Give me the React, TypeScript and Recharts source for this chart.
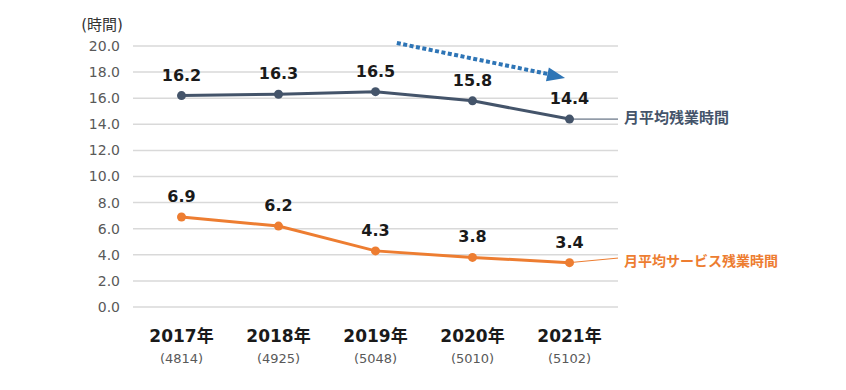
import React from "react";
import {
  LineChart,
  Line,
  XAxis,
  YAxis,
  CartesianGrid,
  LabelList,
  ReferenceLine,
  ReferenceDot,
} from "recharts";

// 年ごとの月平均残業時間（回答者数つき）
const years = ["2017年", "2018年", "2019年", "2020年", "2021年"];
const respondents = [4814, 4925, 5048, 5010, 5102];
const overtime = [16.2, 16.3, 16.5, 15.8, 14.4];
const serviceOvertime = [6.9, 6.2, 4.3, 3.8, 3.4];
const yTicks = [0, 2, 4, 6, 8, 10, 12, 14, 16, 18, 20];

const NAVY = "#44546A";
const ORANGE = "#ED7D31";
const ARROW = "#2E75B6";
const FONT = "'DejaVu Sans', 'Noto Sans CJK JP', sans-serif";

const data = years.map((y, i) => ({
  idx: i,
  year: y,
  n: respondents[i],
  overtime: overtime[i],
  service: serviceOvertime[i],
}));

function YearTick(props: any) {
  const { x, y, payload } = props;
  const i = payload.value as number;
  return (
    <g>
      <text x={x} y={y + 21} textAnchor="middle" dominantBaseline="central"
        fontFamily={FONT} fontSize={17} fontWeight="bold" fill="#1a1a1a">
        {years[i]}
      </text>
      <text x={x} y={y + 43} textAnchor="middle" dominantBaseline="central"
        fontFamily={FONT} fontSize={13} fill="#595959">
        ({respondents[i]})
      </text>
    </g>
  );
}

const seriesLabel = (text: string, color: string, size: number) => (p: any) => (
  <text x={p.cx + 6} y={p.cy} dominantBaseline="central" fontFamily={FONT}
    fontSize={size} fontWeight="bold" fill={color}>
    {text}
  </text>
);

const arrowHead = (p: any) => (
  <polygon points="0,0 -18,-7 -18,7" fill={ARROW}
    transform={`translate(${p.cx},${p.cy}) rotate(11.8)`} />
);

export default function App() {
  return (
    <div style={{ position: "absolute", left: 0, top: 0, background: "#fff" }}>
      <LineChart width={846} height={390} data={data}
        margin={{ top: 46, right: 228, bottom: 0, left: 0 }}>
        <CartesianGrid vertical={false} stroke="#D9D9D9" strokeWidth={1.5} />
        <XAxis type="number" dataKey="idx" domain={[-0.5, 4.5]} ticks={[0, 1, 2, 3, 4]}
          axisLine={false} tickLine={false} height={83} tick={<YearTick />} />
        <YAxis domain={[0, 20]} ticks={yTicks} width={133} axisLine={false} tickLine={false}
          tickSize={0} tickMargin={13} tickFormatter={(v: number) => v.toFixed(1)}
          tick={{ fontFamily: FONT, fontSize: 14, fill: "#595959" }} />
        <text x={102} y={25} textAnchor="middle" dominantBaseline="central"
          fontFamily={FONT} fontSize={15} fill="#333">(時間)</text>

        <ReferenceLine segment={[{ x: 4, y: overtime[4] }, { x: 4.5, y: overtime[4] }]}
          stroke={NAVY} strokeWidth={1} ifOverflow="visible" />
        <ReferenceLine segment={[{ x: 4, y: serviceOvertime[4] }, { x: 4.5, y: 3.75 }]}
          stroke={ORANGE} strokeWidth={1} ifOverflow="visible" />
        <ReferenceDot x={4.5} y={14.46} r={0} ifOverflow="visible"
          shape={seriesLabel("月平均残業時間", NAVY, 15)} />
        <ReferenceDot x={4.5} y={3.54} r={0} ifOverflow="visible"
          shape={seriesLabel("月平均サービス残業時間", ORANGE, 14)} />

        <ReferenceLine segment={[{ x: 2.22, y: 20.23 }, { x: 3.8, y: 17.82 }]}
          stroke={ARROW} strokeWidth={4} strokeDasharray="4 2.5" ifOverflow="visible" />
        <ReferenceDot x={3.954} y={17.54} r={0} ifOverflow="visible" shape={arrowHead} />

        <Line dataKey="overtime" stroke={NAVY} strokeWidth={3} isAnimationActive={false}
          dot={{ r: 4.5, fill: NAVY, stroke: NAVY, strokeWidth: 0 }} activeDot={false}>
          <LabelList dataKey="overtime" position="top" offset={15}
            formatter={(v: any) => Number(v).toFixed(1)}
            style={{ fontFamily: FONT, fontSize: 16, fontWeight: "bold", fill: "#1a1a1a" }} />
        </Line>
        <Line dataKey="service" stroke={ORANGE} strokeWidth={3} isAnimationActive={false}
          dot={{ r: 4.5, fill: ORANGE, stroke: ORANGE, strokeWidth: 0 }} activeDot={false}>
          <LabelList dataKey="service" position="top" offset={15}
            formatter={(v: any) => Number(v).toFixed(1)}
            style={{ fontFamily: FONT, fontSize: 16, fontWeight: "bold", fill: "#1a1a1a" }} />
        </Line>
      </LineChart>
    </div>
  );
}
